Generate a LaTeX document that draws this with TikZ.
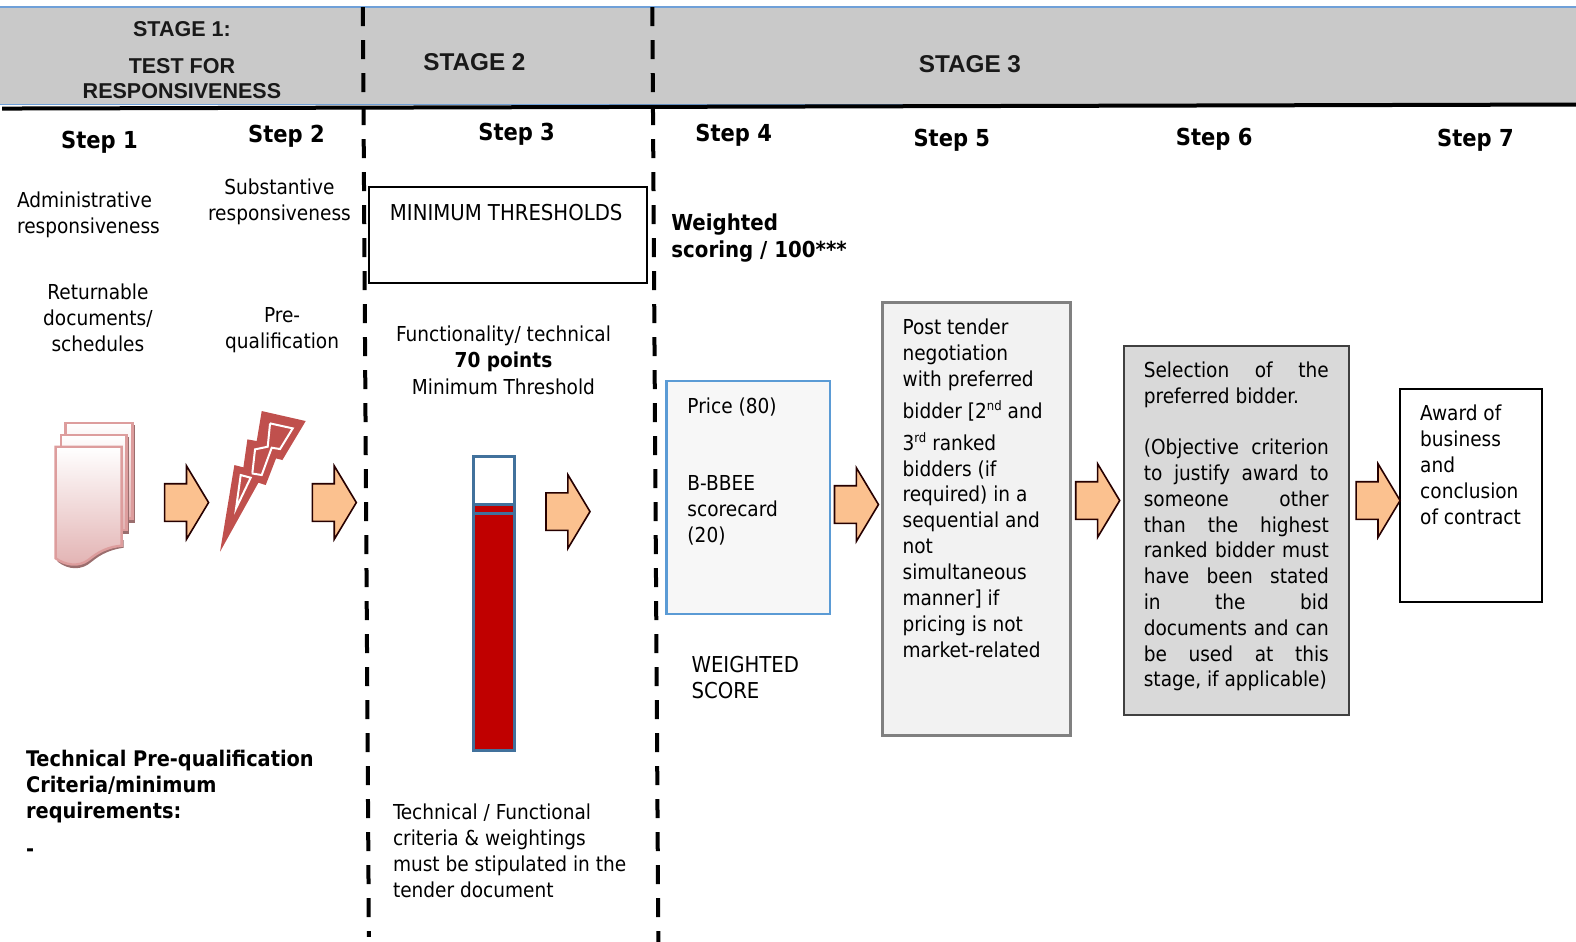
\documentclass[tikz,border=0pt]{standalone}
\usepackage{fontspec}
\setmainfont{DejaVu Sans Condensed}
\newfontfamily\headfont{Liberation Sans}
\usetikzlibrary{shapes.arrows}
\definecolor{arrowfill}{HTML}{FBC18F}
\definecolor{sheetline}{HTML}{DD9D9D}
\definecolor{sheetfill}{HTML}{E2B2B2}
\definecolor{boltred}{HTML}{C0504D}
\definecolor{bandgrey}{HTML}{C9C9C9}
\definecolor{bandblue}{HTML}{6FA0D8}
\definecolor{thermred}{HTML}{C00000}
\definecolor{thermblue}{HTML}{41719C}
\definecolor{boxblue}{HTML}{5B9BD5}
\newcommand{\supsmall}[1]{\raisebox{8pt}{\fontsize{13}{13}\selectfont #1}}
\tikzset{
  every node/.style={inner sep=0pt, outer sep=0pt},
  stagetext/.style={font=\headfont\bfseries\fontsize{21.5}{25.5}\selectfont, text=black!90, align=center},
  stagewide/.style={stagetext, font=\headfont\bfseries\fontsize{24.3}{26}\selectfont},
  steptext/.style={font=\bfseries\fontsize{23.4}{26}\selectfont},
  bodytext/.style={anchor=north west, align=left, font=\fontsize{20.6}{25.95}\selectfont},
  capstext/.style={bodytext, font=\fontsize{21.9}{25.95}\selectfont},
  boldtext/.style={bodytext, font=\bfseries\fontsize{21.5}{25.95}\selectfont},
  stageline/.style={black, line width=4pt, dash pattern=on 19pt off 14pt},
  blockarrow/.style={single arrow, draw=black!85!red, line width=1.6pt, fill=arrowfill, inner xsep=0pt, inner ysep=18pt,
    minimum height=44pt, minimum width=72pt, single arrow head extend=18pt, single arrow tip angle=118, anchor=center},
  sheet/.style={draw=sheetline, line width=2.4pt, top color=white, bottom color=sheetfill},
  boltline/.style={white, line width=2pt, line join=miter}
}
\begin{document}
\begin{tikzpicture}[x=1.005pt,y=-1.005pt]
  \useasboundingbox (0,0) rectangle (1568,937);
  % header band
  \fill[bandgrey] (0,7) rectangle (1568,104);
  \draw[bandblue, line width=1.2pt] (0,7) -- (1568,7);
  \draw[bandblue, line width=1.2pt] (0,104) -- (1568,104);
  \draw[black, line width=4pt] (2,108) -- (1568,104);
  \draw[stageline] (361,7) -- (367,932);
  \draw[stageline] (649,7) -- (655,937);
  \node[stagetext] (stagea) at (181,60) {STAGE 1:\\[11pt]TEST FOR\\RESPONSIVENESS};
  \node[stagewide] (stageb) at (472,62) {STAGE 2};
  \node[stagewide] (stagec) at (965,64) {STAGE 3};
  % steps
  \node[steptext] (stepa) at ( 99,142) {Step 1};
  \node[steptext] (stepb) at (285,136) {Step 2};
  \node[steptext] (stepc) at (514,134) {Step 3};
  \node[steptext] (stepd) at (730,135) {Step 4};
  \node[steptext] (stepe) at (947,140) {Step 5};
  \node[steptext] (stepf) at (1208,139) {Step 6};
  \node[steptext] (stepg) at (1468,140) {Step 7};
  % stage 1 text
  \node[bodytext] (admin) at (17,191) {Administrative\\responsiveness};
  \node[bodytext, align=center] (subst) at (207,178) {Substantive\\responsiveness};
  \node[bodytext, align=center] (docs) at (43,282) {Returnable\\documents/\\schedules};
  \node[bodytext, align=center] (prequal) at (224,306) {Pre-\\qualification};
  \node[boldtext] (techcrit) at (26,746) {Technical Pre-qualification\\Criteria/minimum\\requirements:};
  \node[boldtext] (dash) at (26,844) {-};
  % document icon and bolt
  \begin{scope}[shift={(0,378.1)},scale=0.3317]
   \fill[sheetline!70!black] (203,134) rectangle (404,428);
   \draw[sheet] (197,128) rectangle (398,415);
   \fill[sheetline!70!black] (189,171) rectangle (386,463);
   \draw[sheet] (183,165) rectangle (380,450);
   \fill[sheetline!70!black] (173,545) .. controls (205,570) and (245,572) .. (275,545) .. controls (305,520) and (335,508) .. (371,503) -- (371,480) -- (173,500) -- cycle;
   \draw[sheet] (167,200) -- (365,200) -- (365,497) .. controls (325,500) and (295,515) .. (265,540) .. controls (235,562) and (195,555) .. (167,535) -- cycle;
   \fill[boltred] (660,515) -- (703,255) -- (730,262) -- (742,178) -- (770,183) -- (785,93) -- (917,123) -- (847,240) -- (828,235) -- (797,315) -- (775,308) -- cycle;
   \draw[boltline] (810,130) -- (878,145) -- (840,207) -- (815,203) -- (785,285) -- (755,280);
   \draw[boltline] (810,130) -- (803,200) -- (765,208) -- (757,278);
   \draw[boltline] (722,285) -- (752,293) -- (708,385) -- cycle;
  \end{scope}
  % stage 2
  \node[draw=black, line width=2.5pt, fill=white, minimum width=278pt, minimum height=96pt, anchor=north west] (minbox) at (367,186) {};
  \node[capstext] (mintext) at (388,203) {MINIMUM THRESHOLDS};
  \node[bodytext, align=center, font=\fontsize{20.6}{26.4}\selectfont] (func) at (394,324) {Functionality/ technical\\\textbf{70 points}\\Minimum Threshold};
  \fill[white] (471,454) rectangle (512,502);
  \fill[thermred] (471,502) rectangle (512,747);
  \draw[thermblue, line width=3pt] (471,454) rectangle (512,747);
  \draw[thermblue, line width=3pt] (471,502) -- (512,502);
  \draw[thermblue, line width=3pt] (471,511) -- (512,511);
  \node[bodytext] (techtext) at (391,800) {Technical / Functional\\criteria \& weightings\\must be stipulated in the\\tender document};
  % stage 3
  \node[boldtext, font=\bfseries\fontsize{22}{27}\selectfont] (weighted) at (668,213) {Weighted\\scoring / 100***};
  \node[draw=boxblue, line width=2.5pt, fill=black!3, minimum width=163.5pt, minimum height=233pt, anchor=north west] (pricebox) at (663,379) {};
  \node[bodytext] (price) at (684,396) {Price (80)\\[51pt]B-BBEE\\scorecard\\(20)};
  \node[capstext] (wscore) at (688,653) {WEIGHTED\\SCORE};
  \node[draw=black!50, line width=3pt, fill=black!5, minimum width=188pt, minimum height=433pt, anchor=north west] (postbox) at (878,301) {};
  \node[bodytext] (post) at (898,317) {Post tender\\negotiation\\with preferred\\[6pt]bidder [2\supsmall{nd} and\\[6pt]3\supsmall{rd} ranked\\bidders (if\\required) in a\\sequential and\\not\\simultaneous\\manner] if\\pricing is not\\market-related};
  \node[draw=black!75, line width=2pt, fill=black!15, minimum width=225pt, minimum height=369pt, anchor=north west] (selbox) at (1118,344) {};
  \node[anchor=north west, text width=185pt, align=justify, font=\fontsize{20.6}{25.78}\selectfont] (sel) at (1138,360) {Selection of the\linebreak preferred bidder.\par\vspace{25.78pt}(Objective criterion\linebreak to justify award to\linebreak someone other\linebreak than the highest\linebreak ranked bidder must\linebreak have been stated\linebreak in the bid\linebreak documents and can\linebreak be used at this\linebreak \mbox{stage, if applicable)}};
  \node[draw=black, line width=2pt, fill=white, minimum width=142pt, minimum height=213pt, anchor=north west] (awardbox) at (1393,387) {};
  \node[bodytext] (award) at (1413,403) {Award of\\business\\and\\conclusion\\of contract};
  % arrows
  \node[blockarrow] (arrowa) at (180,500) {};
  \node[blockarrow] (arrowb) at (327,500) {};
  \node[blockarrow] (arrowc) at (559.5,509) {};
  \node[blockarrow] (arrowd) at (846.5,502) {};
  \node[blockarrow] (arrowe) at (1086.5,498) {};
  \node[blockarrow] (arrowf) at (1365.5,498) {};
\end{tikzpicture}
\end{document}
